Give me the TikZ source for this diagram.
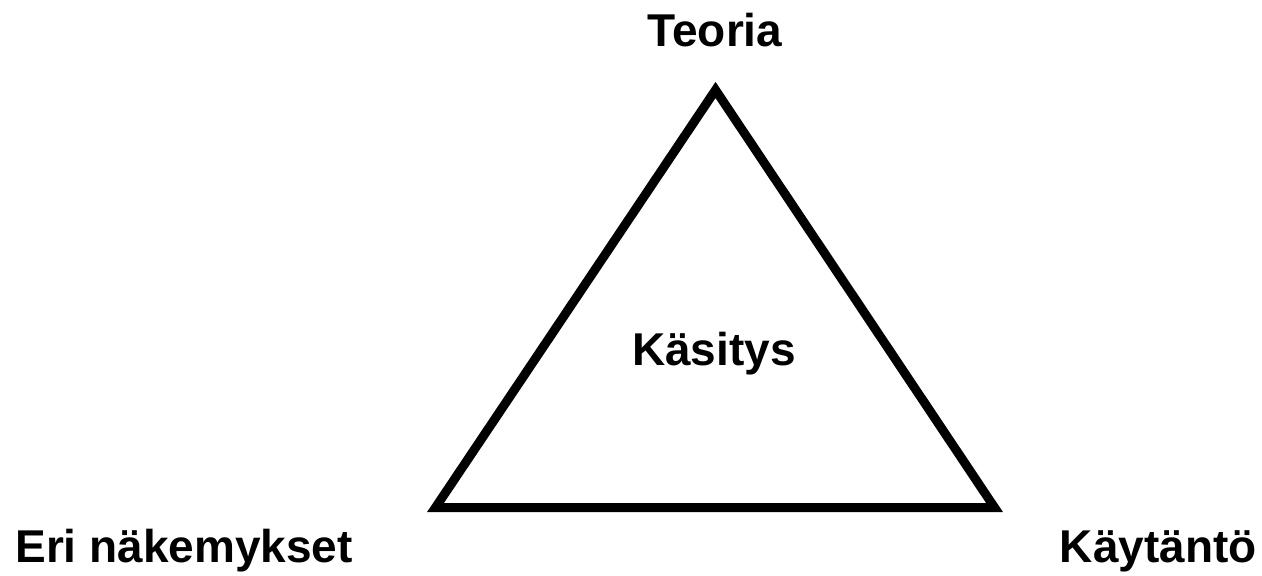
\documentclass[tikz,border=0pt]{standalone}
\usepackage{fontspec}
\setmainfont{Liberation Sans}
\usepackage{tikz}
\usetikzlibrary{positioning}
\tikzstyle{label} = [font=\fontsize{23}{27}\selectfont\bfseries, inner sep=0pt]
\tikzstyle{edge} = [line width=4.5pt, line join=miter]

\begin{document}
\begin{tikzpicture}[x=0.5pt, y=-0.5pt]

\useasboundingbox (0,0) rectangle (1262,576);

\coordinate (top)   at (715.5,90);
\coordinate (left)  at (435.5,507.5);
\coordinate (right) at (994.5,507.5);

\node (teoria)   [label, anchor=base] at (715,47) {Teoria};
\node (kasitys)  [label, anchor=base] at (714,366) {Käsitys};
\node (eri)      [label, anchor=base west] at (15,562) {Eri näkemykset};
\node (kaytanto) [label, anchor=base east] at (1257,562) {Käytäntö};

\draw[edge] (top) -- (left) -- (right) -- cycle;

\end{tikzpicture}
\end{document}
